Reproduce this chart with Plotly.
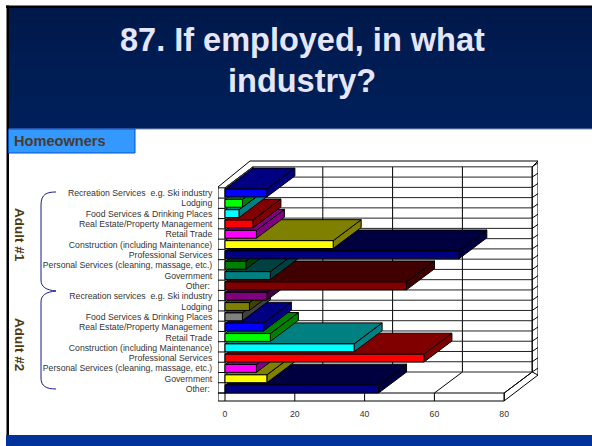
import plotly.graph_objects as go

categories = [
    "Recreation Services  e.g. Ski industry", "Lodging", "Food Services & Drinking Places",
    "Real Estate/Property Management", "Retail Trade", "Construction (including Maintenance)",
    "Professional Services", "Personal Services (cleaning, massage, etc.)", "Government", "Other: ",
    "Recreation services  e.g. Ski industry", "Lodging", "Food Services & Drinking Places",
    "Real Estate/Property Management", "Retail Trade", "Construction (including Maintenance)",
    "Professional Services", "Personal Services (cleaning, massage, etc.)", "Government", "Other: ",
]
values = [12, 5, 4, 8, 9, 31, 67, 6, 13, 52, 12, 7, 5, 11, 13, 37, 57, 9, 12, 44]
front_colors = ["#0000FF", "#00FF00", "#00FFFF", "#FF0000", "#FF00FF", "#FFFF00", "#000080", "#008000", "#008080", "#800000",
                "#800080", "#808000", "#808080", "#0000FF", "#00FF00", "#00FFFF", "#FF0000", "#FF00FF", "#FFFF00", "#000080"]
back_colors = ["#000080", "#008000", "#008080", "#800000", "#800080", "#808000", "#000040", "#004000", "#004040", "#400000",
               "#400040", "#404000", "#404040", "#000080", "#008000", "#008080", "#800000", "#800080", "#808000", "#000040"]
x_ticks = [0, 20, 40, 60, 80]

W, H = 592, 446
PX_L, PX_R, PX_T, PX_B = 218, 538, 160, 402
SX, SY, X0, Y0 = 3.49, 10.32, 225, 193
DX, DY = 28 / SX, 21 / SY
BAR_H = 0.76
rows = list(range(len(values)))
xr = [(PX_L - X0) / SX, (PX_R - X0) / SX]
yr = [(PX_B - Y0) / SY, (PX_T - Y0) / SY]


def vx(p):
    return (p - X0) / SX


def ry(p):
    return (p - Y0) / SY


def fx(p):
    return (p - PX_L) / (PX_R - PX_L)


def fy(p):
    return (PX_B - p) / (PX_B - PX_T)


shapes = []


def rect_px(x0, y0, x1, y1, fill, line=None, lw=0):
    shapes.append(dict(type="rect", xref="paper", yref="paper", x0=fx(x0), x1=fx(x1), y0=fy(y0), y1=fy(y1),
                       fillcolor=fill, line=dict(color=line or fill, width=lw), layer="below"))


def seg(x0, y0, x1, y1, color="#000000", w=1):
    shapes.append(dict(type="line", xref="x", yref="y", x0=x0, x1=x1, y0=y0, y1=y1,
                       line=dict(color=color, width=w), layer="below"))


# slide decoration: each band runs to the header's foot so no seams show
bands = ["#00194B", "#001A4E", "#001B50", "#001C52", "#001D54", "#001E56", "#001E58", "#001F5A"]
for i, c in enumerate(bands):
    rect_px(8, 8 + i * 15.2, W, 129, c)
rect_px(8, 128.6, W, 129.6, "#8090B8")
rect_px(6, 5.5, W, 8, "#000000")
rect_px(6.5, 5.5, 9, 436, "#000000")
rect_px(6, 435, W, H, "#003399")
rect_px(8.5, 129, 135, 153, "#3399FF", "#0050C8", 1)

# 3-D frame
top, bot = -0.5, 19.38
bk = bot - DY
seg(vx(218), ry(187), vx(250), ry(161))
seg(vx(250), ry(161), vx(538), ry(161))
seg(vx(538), ry(161), vx(538), ry(375))
seg(vx(538), ry(375), vx(504), ry(401))
seg(vx(218), ry(187), vx(218), ry(401))
seg(vx(218), ry(401), vx(504), ry(401))
seg(0, top, DX, top - DY)
seg(0, top, 0, bot)
seg(vx(218), bot, 80, bot)
seg(80, bot, 80, ry(401))
seg(80, bot, 80 + DX, bk)
seg(80 + DX, bk, vx(538), ry(375))
seg(80 + DX, top - DY, vx(538), ry(161))
seg(80 + DX, top - DY, 80 + DX, bk)
for v in x_ticks:
    seg(v + DX, top - DY, v + DX, bk)
    seg(v, bot, v + DX, bk)
    seg(v, bot, v, ry(401))
for i in range(len(values) + 1):
    r = top + i * (bot - top) / len(values)
    seg(DX, r - DY, 80 + DX, r - DY, "#222222")
    seg(80 + DX, r - DY, vx(538), r - DY - 4 / SY)
    seg(vx(218), r, 0, r)
    seg(0, r, DX, r - DY, "#222222")

# braces
brace1 = "M 56 192 C 47 192 41 194 41 205 L 41 280 C 41 287 46 290 56 291"
brace2 = "M 56 291 C 46 292 41 295 41 302 L 41 378 C 41 386 46 389 56 389"
for b in (brace1, brace2):
    toks = b.split()
    out, is_x = [], True
    for t in toks:
        if t.isalpha():
            out.append(t)
            is_x = True
        else:
            out.append(f"{fx(float(t)):.5f}" if is_x else f"{fy(float(t)):.5f}")
            is_x = not is_x
    shapes.append(dict(type="path", path=" ".join(out), xref="paper", yref="paper",
                       line=dict(color="#1A1A8C", width=1)))

fig = go.Figure()
# depth faces: painted from the bottom row upward, so upper rows overlap lower ones
for r in reversed(rows):
    v, c = values[r], back_colors[r]
    t, b = r - BAR_H / 2, r + BAR_H / 2
    fig.add_trace(go.Scatter(x=[v, v + DX, v + DX, v, v], y=[t, t - DY, b - DY, b, t], mode="lines",
                             fill="toself", fillcolor=c, line=dict(color="#000000", width=1),
                             hoverinfo="skip", showlegend=False))
    fig.add_trace(go.Scatter(x=[0, v, v + DX, DX, 0], y=[t, t, t - DY, t - DY, t], mode="lines",
                             fill="toself", fillcolor=c, line=dict(color="#000000", width=1),
                             hoverinfo="skip", showlegend=False))
# front faces
fig.add_trace(go.Bar(x=values, y=rows, orientation="h", width=BAR_H, base=0, xaxis="x2", yaxis="y2",
                     marker=dict(color=front_colors, line=dict(color="#000000", width=1)),
                     showlegend=False, hoverinfo="skip"))

font = "Liberation Sans, Arial, sans-serif"
anns = [
    dict(text="87. If employed, in what", x=fx(302), y=fy(40), showarrow=False, xanchor="center",
         yanchor="middle", font=dict(family=font, size=32.5, color="#E6E6FA", weight="bold")),
    dict(text="industry?", x=fx(302), y=fy(81), showarrow=False, xanchor="center",
         yanchor="middle", font=dict(family=font, size=32.5, color="#E6E6FA", weight="bold")),
    dict(text="Homeowners", x=fx(12), y=fy(141), showarrow=False, xanchor="left", yanchor="middle",
         font=dict(family=font, size=14.6, color="#4A3A30", weight="bold")),
    dict(text="Adult #1", x=fx(20), y=fy(235), showarrow=False, textangle=90, xanchor="center", yanchor="middle",
         font=dict(family=font, size=13.5, color="#4D3A10", weight="bold")),
    dict(text="Adult #2", x=fx(20), y=fy(344), showarrow=False, textangle=90, xanchor="center", yanchor="middle",
         font=dict(family=font, size=13.5, color="#4D3A10", weight="bold")),
]
for a in anns:
    a.update(xref="paper", yref="paper")

fig.update_layout(
    width=W, height=H, autosize=False, paper_bgcolor="#FFFFFF", plot_bgcolor="rgba(0,0,0,0)",
    margin=dict(l=PX_L, r=W - PX_R, t=PX_T, b=H - PX_B, pad=0), barmode="overlay",
    shapes=shapes, annotations=anns, font=dict(family=font),
    xaxis=dict(range=xr, tickvals=x_ticks, ticktext=[str(v) for v in x_ticks], showgrid=False, zeroline=False,
               showline=False, ticks="outside", ticklen=4, tickcolor="rgba(0,0,0,0)",
               tickfont=dict(family=font, size=8.7, color="#333333")),
    yaxis=dict(range=yr, tickvals=rows, ticktext=categories, showgrid=False, zeroline=False, showline=False,
               ticks="outside", ticklen=3, tickcolor="rgba(0,0,0,0)",
               tickfont=dict(family=font, size=8.7, color="#333333")),
    xaxis2=dict(range=xr, overlaying="x", visible=False),
    yaxis2=dict(range=yr, overlaying="y", visible=False),
)
fig.write_html("out.html", config=dict(displayModeBar=False),
               post_script="document.body.style.margin='0';document.documentElement.style.overflow='hidden';")
